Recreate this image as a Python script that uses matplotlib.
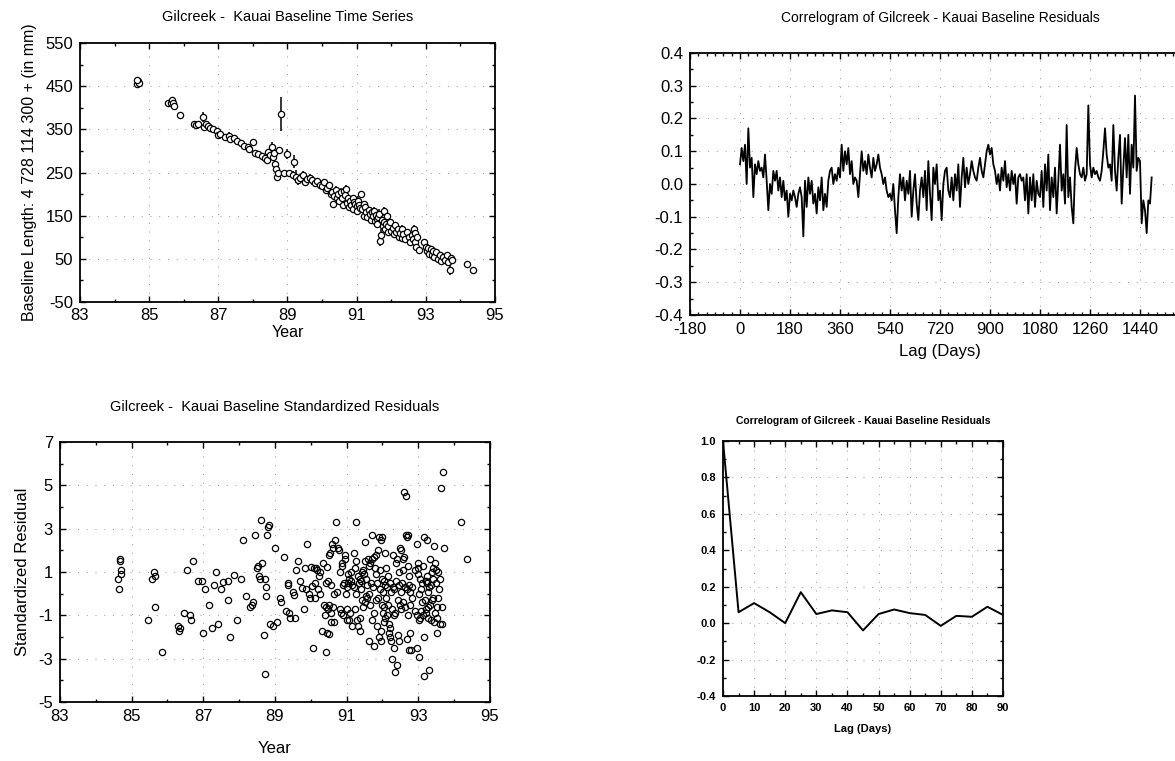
import numpy as np
import matplotlib
matplotlib.use("Agg")
import matplotlib.pyplot as plt
from matplotlib.ticker import MultipleLocator, FormatStrFormatter

plt.rcParams['font.family'] = ['Liberation Sans', 'DejaVu Sans']
plt.rcParams['axes.unicode_minus'] = False

# ---- baseline length time series (year, mm, error) ----
ts_year = [84.65, 84.68, 84.70, 84.66,
           85.55, 85.62, 85.65, 85.70, 85.72, 85.90,
           86.30, 86.35, 86.40, 86.55, 86.60, 86.65, 86.70, 86.75, 86.85, 86.95,
           87.00, 87.05, 87.20, 87.30, 87.35, 87.45, 87.55, 87.65, 87.75, 87.85,
           87.90, 88.00, 88.05, 88.15, 88.25, 88.35, 88.40, 88.45, 88.50, 88.55,
           88.58, 88.62, 88.65, 88.68, 88.70, 88.72, 88.75, 88.80, 88.90, 89.00,
           89.05, 89.15, 89.20, 89.25, 89.30, 89.35, 89.45, 89.50, 89.55, 89.65,
           89.70, 89.80, 89.85, 89.95, 90.00, 90.05, 90.10, 90.15, 90.20, 90.25,
           90.30, 90.32, 90.35, 90.40, 90.42, 90.45, 90.50, 90.55, 90.58, 90.60,
           90.62, 90.65, 90.70, 90.72, 90.75, 90.78, 90.80, 90.85, 90.88, 90.90,
           90.92, 90.95, 91.00, 91.02, 91.05, 91.08, 91.10, 91.12, 91.15, 91.20,
           91.22, 91.25, 91.28, 91.30, 91.35, 91.38, 91.40, 91.45, 91.48, 91.50,
           91.52, 91.55, 91.58, 91.60, 91.62, 91.65, 91.68, 91.70, 91.72, 91.75,
           91.78, 91.80, 91.82, 91.85, 91.88, 91.90, 91.92, 91.95, 92.00, 92.05,
           92.08, 92.10, 92.15, 92.20, 92.22, 92.25, 92.30, 92.32, 92.35, 92.40,
           92.45, 92.50, 92.55, 92.60, 92.62, 92.65, 92.68, 92.70, 92.72, 92.75,
           92.80, 92.95, 93.00, 93.02, 93.05, 93.10, 93.15, 93.18, 93.20, 93.25,
           93.30, 93.35, 93.40, 93.45, 93.50, 93.55, 93.60, 93.65, 93.70, 93.72,
           93.75, 94.20, 94.35]
ts_len = [455, 462, 458, 465,
          410, 412, 418, 410, 405, 383,
          362, 360, 362, 378, 355, 362, 358, 352, 350, 345,
          338, 340, 332, 335, 328, 330, 322, 318, 312, 310,
          305, 320, 295, 292, 288, 283, 280, 298, 290, 310,
          285, 295, 270, 258, 240, 250, 302, 385, 250, 293,
          248, 245, 275, 240, 232, 238, 245, 228, 236, 238,
          232, 226, 230, 222, 218, 228, 210, 215, 222, 200,
          205, 178, 195, 210, 190, 200, 185, 205, 192, 175,
          208, 198, 212, 180, 192, 170, 185, 175, 190, 165,
          182, 178, 172, 160, 185, 175, 168, 200, 165, 178,
          150, 170, 158, 148, 162, 155, 140, 158, 150, 160,
          138, 152, 142, 130, 148, 155, 92, 105, 140, 125,
          135, 160, 118, 130, 150, 112, 125, 135, 115, 122,
          108, 128, 112, 118, 100, 110, 120, 98, 108, 95,
          112, 100, 90, 105, 95, 120, 88, 110, 78, 100,
          70, 88, 78, 68, 75, 62, 72, 58, 68, 55,
          65, 50, 60, 45, 55, 48, 58, 42, 25, 52,
          48, 38, 25]
ts_err = [8, 8, 6, 5,
          5, 5, 6, 8, 7, 4,
          5, 4, 4, 12, 6, 5, 6, 5, 5, 6,
          5, 5, 5, 8, 6, 6, 7, 6, 6, 5,
          8, 8, 5, 4, 5, 5, 5, 6, 6, 10,
          8, 6, 6, 8, 6, 6, 8, 40, 4, 12,
          4, 8, 15, 15, 10, 8, 8, 10, 6, 8,
          10, 8, 6, 8, 6, 8, 8, 6, 6, 8,
          6, 6, 6, 8, 6, 8, 8, 10, 6, 10,
          8, 6, 10, 8, 6, 8, 8, 6, 6, 8,
          8, 6, 6, 8, 10, 6, 6, 8, 8, 6,
          10, 6, 6, 8, 6, 8, 10, 6, 6, 10,
          6, 6, 8, 8, 6, 10, 12, 15, 6, 8,
          6, 10, 6, 8, 6, 6, 8, 6, 6, 6,
          6, 8, 6, 6, 8, 6, 8, 6, 6, 8,
          6, 6, 6, 8, 6, 8, 6, 6, 6, 8,
          6, 6, 6, 6, 6, 6, 8, 6, 6, 6,
          6, 8, 6, 8, 6, 6, 6, 8, 12, 6,
          6, 4, 4]

# ---- correlogram, lags every 6 days ----
acf_step = 6
acf_long = [
    0.06, 0.11, 0.07, 0.12, 0.00, 0.17, 0.05, 0.08, -0.04, 0.06,
    0.03, 0.07, 0.04, 0.05, 0.02, 0.09, 0.01, -0.08, 0.00, -0.03,
    0.04, 0.01, 0.04, -0.02, 0.02, -0.04, 0.01, -0.05, -0.02, -0.10,
    -0.03, -0.05, -0.02, -0.04, -0.07, -0.03, -0.01, -0.04, -0.16, 0.01,
    -0.07, 0.02, -0.03, 0.01, -0.06, -0.03, -0.09, -0.01, -0.05, 0.02,
    -0.08, -0.03, -0.07, 0.01, 0.04, 0.05, 0.00, 0.03, 0.01, 0.05,
    0.02, 0.12, 0.04, 0.10, 0.06, 0.11, 0.03, 0.07, 0.00, 0.02,
    0.01, -0.04, 0.03, 0.10, 0.04, 0.07, 0.03, 0.09, 0.05, 0.02,
    0.08, 0.04, 0.06, 0.09, 0.05, 0.03, 0.00, 0.02, -0.02, -0.04,
    -0.03, -0.05, 0.00, -0.08, -0.15, -0.04, 0.03, -0.02, 0.02, -0.05,
    0.01, -0.03, 0.04, -0.10, -0.02, 0.03, -0.06, -0.11, -0.02, 0.02,
    -0.04, 0.04, -0.08, 0.07, -0.03, -0.11, 0.05, 0.00, 0.06, -0.05,
    -0.02, -0.11, 0.00, 0.04, 0.05, -0.02, -0.04, 0.02, -0.05, 0.03,
    -0.02, 0.06, -0.07, 0.02, 0.08, -0.01, 0.05, 0.00, 0.03, 0.07,
    0.04, 0.02, 0.01, 0.05, 0.08, 0.04, 0.02, 0.06, 0.10, 0.12,
    0.09, 0.11, 0.06, 0.04, 0.00, 0.03, -0.02, 0.05, 0.01, 0.07,
    -0.01, 0.03, -0.02, 0.04, 0.00, 0.03, -0.06, 0.02, 0.03, 0.01,
    0.02, -0.05, 0.03, -0.09, 0.02, -0.05, 0.03, -0.07, 0.01, -0.03,
    -0.04, 0.04, -0.07, 0.06, -0.02, 0.09, -0.08, 0.02, -0.04, 0.05,
    -0.09, 0.01, 0.12, -0.02, 0.03, -0.06, 0.18, -0.04, 0.02, -0.07,
    -0.12, 0.04, 0.11, 0.06, 0.03, 0.02, 0.05, 0.01, 0.03, 0.24,
    0.06, 0.02, 0.05, 0.03, 0.04, 0.02, 0.01, 0.04, 0.10, 0.17,
    0.09, 0.05, 0.06, 0.01, 0.18, 0.04, -0.02, 0.08, 0.15, -0.06,
    0.05, 0.14, 0.02, 0.15, -0.03, 0.12, 0.05, 0.27, 0.04, 0.08,
    0.07, -0.12, -0.05, -0.08, -0.15, -0.05, -0.06, 0.02]
acf_lags = np.arange(len(acf_long)) * acf_step

# ---- standardized residuals ----
res_year = [84.62, 84.66, 84.67, 84.68, 84.70, 84.69,
            85.45, 85.58, 85.62, 85.66, 85.65, 85.85,
            86.30, 86.32, 86.36, 86.45, 86.55, 86.62, 86.66, 86.70,
            86.85, 86.95, 87.00, 87.05, 87.15, 87.25, 87.30, 87.35, 87.40, 87.50,
            87.56, 87.68, 87.70, 87.75, 87.85, 87.95, 88.05, 88.10, 88.20, 88.30,
            88.35, 88.38, 88.45, 88.50, 88.53, 88.55, 88.58, 88.60, 88.65, 88.70,
            88.71, 88.72, 88.75, 88.76, 88.77, 88.80, 88.83, 88.85, 88.95, 89.00,
            89.05, 89.15, 89.16, 89.25, 89.30, 89.35, 89.36, 89.40, 89.42, 89.50,
            89.52, 89.55, 89.60, 89.65, 89.70, 89.75, 89.80, 89.85, 89.86, 89.90,
            89.95, 89.97, 90.00, 90.02, 90.05, 90.10, 90.11, 90.12, 90.15, 90.17,
            90.20, 90.22, 90.25, 90.26, 90.30, 90.35, 90.36, 90.40, 90.41, 90.42,
            90.43, 90.45, 90.46, 90.47, 90.48, 90.50, 90.51, 90.52, 90.53, 90.55,
            90.56, 90.57, 90.60, 90.61, 90.62, 90.65, 90.66, 90.67, 90.70, 90.72,
            90.75, 90.80, 90.81, 90.82, 90.85, 90.86, 90.87, 90.90, 90.91, 90.92,
            90.95, 90.96, 90.97, 91.00, 91.01, 91.02, 91.03, 91.05, 91.06, 91.07,
            91.10, 91.11, 91.12, 91.15, 91.16, 91.20, 91.21, 91.22, 91.23, 91.25,
            91.26, 91.27, 91.30, 91.31, 91.32, 91.35, 91.36, 91.37, 91.38, 91.40,
            91.41, 91.42, 91.43, 91.45, 91.46, 91.47, 91.50, 91.51, 91.52, 91.53,
            91.55, 91.56, 91.57, 91.60, 91.61, 91.62, 91.63, 91.65, 91.66, 91.67,
            91.70, 91.71, 91.72, 91.73, 91.75, 91.76, 91.77, 91.80, 91.81, 91.82,
            91.83, 91.85, 91.86, 91.87, 91.88, 91.90, 91.91, 91.92, 91.93, 91.95,
            91.96, 91.97, 91.98, 91.99, 92.00, 92.01, 92.02, 92.03, 92.04, 92.05,
            92.06, 92.07, 92.08, 92.10, 92.11, 92.12, 92.13, 92.15, 92.16, 92.17,
            92.18, 92.20, 92.21, 92.22, 92.23, 92.25, 92.26, 92.27, 92.28, 92.30,
            92.31, 92.32, 92.33, 92.35, 92.36, 92.37, 92.38, 92.40, 92.41, 92.42,
            92.43, 92.45, 92.46, 92.47, 92.48, 92.50, 92.51, 92.52, 92.53, 92.55,
            92.56, 92.57, 92.58, 92.60, 92.61, 92.62, 92.63, 92.65, 92.66, 92.67,
            92.68, 92.69, 92.70, 92.71, 92.72, 92.73, 92.74, 92.75, 92.76, 92.77,
            92.78, 92.80, 92.81, 92.82, 92.90, 92.91, 92.95, 92.96, 92.97, 92.98,
            92.99, 93.00, 93.01, 93.02, 93.03, 93.05, 93.06, 93.07, 93.08, 93.10,
            93.11, 93.12, 93.13, 93.15, 93.16, 93.17, 93.18, 93.20, 93.21, 93.22,
            93.23, 93.24, 93.25, 93.26, 93.27, 93.28, 93.30, 93.31, 93.32, 93.33,
            93.35, 93.36, 93.37, 93.38, 93.40, 93.41, 93.42, 93.43, 93.45, 93.46,
            93.47, 93.48, 93.50, 93.51, 93.52, 93.53, 93.55, 93.56, 93.57, 93.60,
            93.61, 93.62, 93.65, 93.66, 93.70, 93.72, 94.20, 94.35]
res_val = [0.7, 0.2, 1.6, 1.5, 1.1, 0.9,
           -1.2, 0.7, 1.0, 0.8, -0.6, -2.7,
           -1.5, -1.7, -1.6, -0.9, 1.1, -1.0, -1.2, 1.5,
           0.6, 0.6, -1.8, 0.2, -0.5, -1.6, 0.4, 1.0, -1.4, 0.2,
           0.55, 0.6, -0.3, -2.0, 0.85, -1.2, 0.7, 2.5, -0.1, -0.6,
           -0.5, -0.4, 2.7, 1.2, 1.3, 0.8, 0.7, 3.4, 1.4, -1.9,
           -3.7, 0.7, 0.3, -0.1, 2.7, 3.1, 3.15, -1.4, -1.5, 2.1,
           -1.3, -0.2, -0.4, 1.7, -0.8, 0.5, 0.4, -0.9, -1.1, 0.1,
           -0.05, -1.1, 1.1, 1.5, 0.6, 0.25, -0.7, 1.2, 0.2, 2.3,
           0.0, -0.2, 1.25, 0.35, -2.5, 1.2, 0.5, -0.2, 1.2, 1.1,
           0.2, 0.8, 1.0, 0.0, -1.7, 1.4, -0.5, -1.0, -2.7, 0.5,
           -0.6, 1.25, -1.8, -0.7, 0.6, -1.85, -0.5, 1.8, 1.9, 0.4,
           -1.3, -0.9, 2.3, 2.1, -0.6, -1.3, 0.0, 2.5, 3.3, 0.1,
           2.1, 2.0, -0.7, 1.0, -0.9, 1.3, 1.4, -1.0, 0.4, 0.5,
           1.8, 1.6, 0.0, -1.2, -0.7, 0.3, 0.9, 0.5, 0.7, -1.2,
           -0.9, 0.6, 1.0, -1.5, 0.4, 1.9, 0.3, -0.7, 1.2, 3.3,
           1.5, 0.0, -1.2, -1.5, 0.8, 0.5, -1.1, -1.7, 0.7, 0.6,
           0.2, -0.3, 1.0, 1.1, -0.6, 0.9, 1.5, 2.4, -0.4, -0.1,
           0.7, 0.4, -0.2, 1.6, -2.2, 0.0, 1.3, 1.4, -0.5, 0.5,
           2.7, -1.2, 1.6, 0.3, -2.4, 1.7, -0.9, 1.2, 1.8, -0.3,
           0.9, -1.5, 0.5, 2.0, -0.2, -2.0, 2.6, 1.1, 0.2, -2.2,
           -1.7, 2.5, 0.7, -0.5, 2.6, -0.9, 0.1, -1.3, 0.6, -0.6,
           0.4, -1.1, 1.9, -0.2, 1.2, -1.0, 0.3, -0.5, 0.8, -1.8,
           -1.4, 0.5, -2.0, -1.6, 0.1, -2.2, -3.0, -0.7, 0.3, 1.8,
           0.2, -2.5, -1.0, -3.6, -0.9, 0.6, 1.4, -3.3, 1.6, -0.3,
           -1.9, 1.0, -2.2, 0.4, -0.5, 2.1, -0.7, 0.1, 2.0, 0.5,
           -0.4, 1.1, 1.6, 4.7, 1.7, -0.6, 0.3, 4.5, 2.7, 2.6,
           -2.1, 0.2, 2.7, 1.3, -1.0, -2.6, 0.4, 0.8, -1.8, 0.1,
           -0.5, -2.6, 0.3, -0.2, 1.1, -0.8, 2.3, -1.0, -2.5, 1.4,
           1.2, 0.9, -1.2, -2.9, 0.0, 0.7, -1.1, -0.8, 0.2, 0.5,
           -0.4, -1.0, 1.3, -3.8, -2.0, 2.6, -0.3, 0.6, -0.7, -0.9,
           2.5, 0.8, 0.5, -1.1, 0.1, -0.6, -3.5, 0.3, -0.5, 1.6,
           -1.2, 0.4, 1.0, -0.3, 1.2, -0.2, 0.7, -1.3, 2.2, 1.4,
           -0.9, 0.5, 1.1, -1.8, -1.1, -0.6, 1.0, -0.2, 0.2, -1.4,
           0.7, 4.9, -0.6, -1.4, 5.6, 2.1, 3.3, 1.6]

# ---- short correlogram ----
acf_short_lag = [0, 5, 10, 15, 20, 25, 30, 35, 40, 45, 50, 55, 60, 65, 70, 75, 80, 85, 90]
acf_short = [1.0, 0.06, 0.11, 0.06, 0.0, 0.17, 0.05, 0.07, 0.06, -0.04,
             0.05, 0.075, 0.055, 0.045, -0.015, 0.04, 0.035, 0.09, 0.045]

# tick positions
year_ticks = [83, 85, 87, 89, 91, 93, 95]
len_ticks = [-50, 50, 150, 250, 350, 450, 550]
lag_ticks = [-180, 0, 180, 360, 540, 720, 900, 1080, 1260, 1440]
acf_long_ticks = [-0.4, -0.3, -0.2, -0.1, 0.0, 0.1, 0.2, 0.3, 0.4]
res_ticks = [-5, -3, -1, 1, 3, 5, 7]
short_lag_ticks = [0, 10, 20, 30, 40, 50, 60, 70, 80, 90]
acf_short_ticks = [-0.4, -0.2, 0.0, 0.2, 0.4, 0.6, 0.8, 1.0]

W, H = 1175, 761
fig = plt.figure(figsize=(W / 100, H / 100), dpi=100)


def box(l, r, t, b):
    return [l / W, 1 - b / H, (r - l) / W, (b - t) / H]


def frame(ax, lw=1.3, size=12):
    for s in ax.spines.values():
        s.set_linewidth(lw)
    ax.tick_params(which='both', direction='in', top=True, right=True,
                   labelsize=size, width=1.0)
    ax.tick_params(which='major', length=4, pad=5)
    ax.tick_params(which='minor', length=2)
    ax.grid(True, which='major', color='0.6', linestyle=(0, (1, 8)), linewidth=0.7)


# top left: time series
ax1 = fig.add_axes(box(80, 495, 43, 302))
ax1.errorbar(ts_year, ts_len, yerr=ts_err, fmt='o', ms=4.5, mfc='white', mec='black',
             mew=0.9, ecolor='black', elinewidth=1.1, capsize=0)
ax1.set_xlim(83, 95)
ax1.set_ylim(-50, 550)
ax1.set_xticks(year_ticks)
ax1.set_yticks(len_ticks)
ax1.xaxis.set_minor_locator(MultipleLocator(1))
ax1.yaxis.set_minor_locator(MultipleLocator(50))
frame(ax1)
ax1.tick_params(axis='x', which='major', pad=4)
ax1.set_title('Gilcreek -  Kauai Baseline Time Series', fontsize=10.5, pad=16)
ax1.set_xlabel('Year', fontsize=11.5, labelpad=2)
ax1.set_ylabel('Baseline Length: 4 728 114 300 + (in mm)', fontsize=11.5, labelpad=6)

# top right: long correlogram
ax2 = fig.add_axes(box(690, 1190, 53, 315))
ax2.plot(acf_lags, acf_long, color='black', linewidth=1.3)
ax2.set_xlim(-180, 1620)
ax2.set_ylim(-0.4, 0.4)
ax2.set_xticks(lag_ticks)
ax2.set_yticks(acf_long_ticks)
ax2.yaxis.set_major_formatter(FormatStrFormatter('%.1f'))
ax2.xaxis.set_minor_locator(MultipleLocator(30))
ax2.yaxis.set_minor_locator(MultipleLocator(0.05))
frame(ax2)
ax2.set_title('Correlogram of Gilcreek - Kauai Baseline Residuals', fontsize=10, pad=22)
ax2.set_xlabel('Lag (Days)', fontsize=12, labelpad=5)

# bottom left: standardized residuals
ax3 = fig.add_axes(box(60, 490, 442, 702))
ax3.plot(res_year, res_val, 'o', ms=4.5, mfc='none', mec='black', mew=0.9)
ax3.set_xlim(83, 95)
ax3.set_ylim(-5, 7)
ax3.set_xticks(year_ticks)
ax3.set_yticks(res_ticks)
ax3.xaxis.set_minor_locator(MultipleLocator(1))
ax3.yaxis.set_minor_locator(MultipleLocator(1))
frame(ax3)
ax3.set_title('Gilcreek -  Kauai Baseline Standardized Residuals', fontsize=10.5, pad=22)
ax3.set_xlabel('Year', fontsize=12, labelpad=12)
ax3.set_ylabel('Standardized Residual', fontsize=12, labelpad=6)

# bottom right: short correlogram
ax4 = fig.add_axes(box(723, 1003, 441, 696))
ax4.plot(acf_short_lag, acf_short, color='black', linewidth=1.4)
ax4.set_xlim(0, 90)
ax4.set_ylim(-0.4, 1.0)
ax4.set_xticks(short_lag_ticks)
ax4.set_yticks(acf_short_ticks)
ax4.yaxis.set_major_formatter(FormatStrFormatter('%.1f'))
ax4.xaxis.set_minor_locator(MultipleLocator(5))
ax4.yaxis.set_minor_locator(MultipleLocator(0.1))
frame(ax4, lw=1.3, size=8)
for lab in ax4.get_xticklabels() + ax4.get_yticklabels():
    lab.set_fontweight('bold')
ax4.set_title('Correlogram of Gilcreek - Kauai Baseline Residuals', fontsize=7.5,
              fontweight='bold', pad=12)
ax4.set_xlabel('Lag (Days)', fontsize=8, fontweight='bold', labelpad=8)

fig.savefig('out.png', dpi=100)
